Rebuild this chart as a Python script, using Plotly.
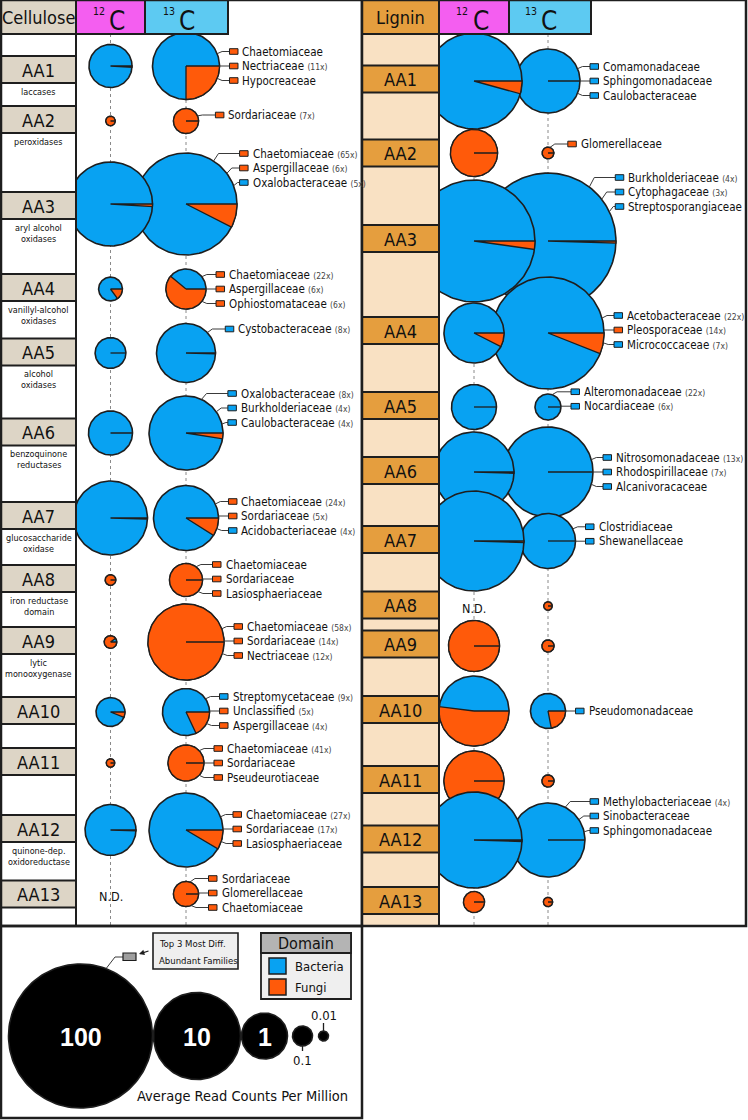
import numpy as np
import plotly.graph_objects as go

# ---------------- data ----------------
modules = ["AA1", "AA2", "AA3", "AA4", "AA5", "AA6", "AA7", "AA8", "AA9", "AA10", "AA11", "AA12", "AA13"]
cellulose_desc = [["laccases"], ["peroxidases"], ["aryl alcohol", "oxidases"], ["vanillyl-alcohol", "oxidases"],
                  ["alcohol", "oxidases"], ["benzoquinone", "reductases"], ["glucosaccharide", "oxidase"],
                  ["iron reductase", "domain"], ["lytic", "monooxygenase"], [], [], ["quinone-dep.", "oxidoreductase"], []]

# average read counts per million (None = not detected)
cell_12c_rpm = [0.77, 0.0076, 8.45, 0.14, 0.26, 0.84, 4.8, 0.0115, 0.018, 0.22, 0.0048, 1.32, None]
cell_13c_rpm = [3.25, 0.156, 18.3, 0.59, 2.07, 4.8, 2.9, 0.316, 5.4, 1.06, 0.41, 4.8, 0.156]
lig_12c_rpm = [14.4, 1.06, 41.0, 2.2, 0.91, 6.75, 16.9, None, 1.32, 3.85, 2.2, 14.4, 0.109]
lig_13c_rpm = [2.75, 0.0145, 72.0, 27.5, 0.17, 11.3, 1.66, 0.0048, 0.016, 0.38, 0.016, 4.8, 0.0069]

# share of reads assigned to fungi (%)
cell_12c_fungi = [1, 100, 1, 15, 0, 0.5, 0.5, 100, 90, 6, 100, 0.5, None]
cell_13c_fungi = [25, 100, 7.5, 61, 0.5, 2.5, 9, 100, 100, 18, 100, 8.5, 100]
lig_12c_fungi = [4.3, 100, 2.2, 7.5, 0, 0.5, 0.5, None, 100, 52, 100, 0.5, 100]
lig_13c_fungi = [0, 100, 0.5, 6, 0, 0, 0, 100, 100, 22, 100, 0, 100]

# top 3 most differentially abundant families (name, fold, domain)
cell_families = [
    [("Chaetomiaceae", "", "F"), ("Nectriaceae", "11x", "F"), ("Hypocreaceae", "", "F")],
    [("Sordariaceae", "7x", "F")],
    [("Chaetomiaceae", "65x", "F"), ("Aspergillaceae", "6x", "F"), ("Oxalobacteraceae", "5x", "B")],
    [("Chaetomiaceae", "22x", "F"), ("Aspergillaceae", "6x", "F"), ("Ophiostomataceae", "6x", "F")],
    [("Cystobacteraceae", "8x", "B")],
    [("Oxalobacteraceae", "8x", "B"), ("Burkholderiaceae", "4x", "B"), ("Caulobacteraceae", "4x", "B")],
    [("Chaetomiaceae", "24x", "F"), ("Sordariaceae", "5x", "F"), ("Acidobacteriaceae", "4x", "B")],
    [("Chaetomiaceae", "", "F"), ("Sordariaceae", "", "F"), ("Lasiosphaeriaceae", "", "F")],
    [("Chaetomiaceae", "58x", "F"), ("Sordariaceae", "14x", "F"), ("Nectriaceae", "12x", "F")],
    [("Streptomycetaceae", "9x", "B"), ("Unclassified", "5x", "F"), ("Aspergillaceae", "4x", "F")],
    [("Chaetomiaceae", "41x", "F"), ("Sordariaceae", "", "F"), ("Pseudeurotiaceae", "", "F")],
    [("Chaetomiaceae", "27x", "F"), ("Sordariaceae", "17x", "F"), ("Lasiosphaeriaceae", "", "F")],
    [("Sordariaceae", "", "F"), ("Glomerellaceae", "", "F"), ("Chaetomiaceae", "", "F")],
]
lig_families = [
    [("Comamonadaceae", "", "B"), ("Sphingomonadaceae", "", "B"), ("Caulobacteraceae", "", "B")],
    [("Glomerellaceae", "", "F")],
    [("Burkholderiaceae", "4x", "B"), ("Cytophagaceae", "3x", "B"), ("Streptosporangiaceae", "", "B")],
    [("Acetobacteraceae", "22x", "B"), ("Pleosporaceae", "14x", "F"), ("Micrococcaceae", "7x", "B")],
    [("Alteromonadaceae", "22x", "B"), ("Nocardiaceae", "6x", "B")],
    [("Nitrosomonadaceae", "13x", "B"), ("Rhodospirillaceae", "7x", "B"), ("Alcanivoracaceae", "", "B")],
    [("Clostridiaceae", "", "B"), ("Shewanellaceae", "", "B")],
    [], [],
    [("Pseudomonadaceae", "", "B")],
    [],
    [("Methylobacteriaceae", "4x", "B"), ("Sinobacteraceae", "", "B"), ("Sphingomonadaceae", "", "B")],
    [],
]

legend_rpm = [100, 10, 1, 0.1, 0.01]
legend_text = ["100", "10", "1", "0.1", "0.01"]
domains = ["Bacteria", "Fungi"]

# ---------------- layout / style ----------------
W, H = 748, 1120
FONT = "Liberation Sans Narrow, DejaVu Sans Condensed, Arial Narrow, Liberation Sans, sans-serif"
BOLD = "Liberation Sans, Arial, sans-serif"
BLUE = "#08A2F2"
ORANGE = "#FF5A0A"
DOMAIN_COLOR = {"B": BLUE, "F": ORANGE}
TAN = "#DDD5C6"
MAGENTA = "#F45EF0"
CYAN = "#5DCAF2"
LIG_HDR = "#E59E3E"
PEACH = "#F9E1C3"
LINE = "#1E1E1E"
INK = "#111111"

# size scale: log10(read counts per million) -> radius (px)
SIZE_LOG = [-3, -2, -1, 0, 1, 2]
SIZE_R = [2.5, 5, 10, 23, 43.5, 72]

PANELS = [
    dict(x0=1, lab_x1=76, x1=362, col12=110.5, col13=186, hdr="Cellulose", hdr_fill=TAN,
         box_fill=TAN, col_fill="white",
         rows=[66, 121, 204, 289, 353, 433, 518, 580, 642, 712, 763, 830, 894],
         box_y=[69.5, 119.5, 205.5, 287.5, 352, 432, 515.5, 578.5, 640.5, 710.5, 761.5, 828.5, 894],
         shift=[0, -6, -36, 0, -24, -25, -2, -1, -1, -1, 0, -1, -1],
         hdr12=(76, 145), hdr13=(145, 228),
         rpm12=cell_12c_rpm, rpm13=cell_13c_rpm, f12=cell_12c_fungi, f13=cell_13c_fungi,
         fams=cell_families, desc=cellulose_desc),
    dict(x0=362, lab_x1=439, x1=746, col12=474, col13=548, hdr="Lignin", hdr_fill=LIG_HDR,
         box_fill=LIG_HDR, col_fill=PEACH,
         rows=[81, 153, 241, 333, 407, 472, 541, 606, 646, 711, 781, 840, 902],
         box_y=[79, 153, 238.5, 330.5, 405.5, 470.5, 539.5, 605, 644, 709.5, 779.5, 839, 900.5],
         shift=[0, -9, -49, -3, -8, 0, -7, 0, 0, 0, 0, -24, 0],
         hdr12=(439, 509), hdr13=(509, 591),
         rpm12=lig_12c_rpm, rpm13=lig_13c_rpm, f12=lig_12c_fungi, f13=lig_13c_fungi,
         fams=lig_families, desc=[[] for _ in modules]),
]
HDR_H = 34
PANEL_BOTTOM = 926
SPACING = 14.5
GAP_CENTER, GAP_SINGLE, GAP_BLOCK = 10, 18, 6
LABEL_SIZE = 11.5
TEXT_OFF = 11

traces, shapes, annotations = [], [], []


def radius(v):
    return float(np.interp(np.log10(v), SIZE_LOG, SIZE_R))


def ann(x, y, text, size, color=INK, xanchor="center", yanchor="middle", family=FONT, align="center"):
    annotations.append(dict(x=x, y=y, xref="x", yref="y", text=text, showarrow=False,
                            xanchor=xanchor, yanchor=yanchor, align=align,
                            font=dict(family=family, size=size, color=color)))


def rect(x0, y0, x1, y1, fill, lw=2.0, color=LINE, layer="above"):
    shapes.append(dict(type="rect", xref="x", yref="y", x0=x0, y0=y0, x1=x1, y1=y1,
                       fillcolor=fill, line=dict(color=color, width=lw), layer=layer))


def line(x0, y0, x1, y1, color=LINE, width=1.0, dash="solid", layer="above"):
    shapes.append(dict(type="line", xref="x", yref="y", x0=x0, y0=y0, x1=x1, y1=y1,
                       line=dict(color=color, width=width, dash=dash), layer=layer))


def add_disc(cx, cy, r, fill):
    t = np.linspace(0, 2 * np.pi, 145)
    traces.append(go.Scatter(x=cx + r * np.cos(t), y=cy + r * np.sin(t), mode="lines", fill="toself",
                             fillcolor=fill, line=dict(color=LINE, width=1.6),
                             hoverinfo="skip", showlegend=False))


def add_pie(cx, cy, rpm, fungi):
    r = radius(rpm)
    add_disc(cx, cy, r, BLUE)
    f = fungi / 100.0
    if f > 0:
        n = max(3, int(np.ceil(f * 144)) + 1)
        tt = np.linspace(0, f * 2 * np.pi, n)
        xs = np.concatenate([[cx], cx + r * np.cos(tt), [cx]])
        ys = np.concatenate([[cy], cy + r * np.sin(tt), [cy]])
        traces.append(go.Scatter(x=xs, y=ys, mode="lines", fill="toself", fillcolor=ORANGE,
                                 line=dict(color=LINE, width=1.3), hoverinfo="skip", showlegend=False))
    else:
        traces.append(go.Scatter(x=[cx, cx + r], y=[cy, cy], mode="lines",
                                 line=dict(color=LINE, width=1.3), hoverinfo="skip", showlegend=False))
    return r


def add_labels(cx, cy, r, fams, shift):
    n = len(fams)
    ys = [cy + shift + (i - (n - 1) / 2) * SPACING for i in range(n)]
    starts = []
    centered = False
    for ly in ys:
        dy = ly - cy
        if abs(dy) < 3.5:
            starts.append((cx + r, ly))
            centered = True
        else:
            y0 = cy + float(np.clip(dy * 0.85, -0.95 * r, 0.95 * r))
            x0 = cx + np.sqrt(max(r * r - (y0 - cy) ** 2, 0))
            starts.append((x0, y0))
    gap = GAP_CENTER if centered else (GAP_SINGLE if n == 1 else GAP_BLOCK)
    rx = max(s[0] for s in starts) + gap
    for (x0, y0), ly, (name, fold, dom) in zip(starts, ys, fams):
        ex = min(x0 + 5, rx - 2) if abs(y0 - ly) > 0.5 else x0
        shapes.append(dict(type="path", xref="x", yref="y",
                           path=f"M{x0:.1f},{y0:.1f} L{ex:.1f},{ly:.1f} L{rx:.1f},{ly:.1f}",
                           line=dict(color="#3A3A3A", width=1), layer="above"))
        rect(rx, ly - 2.8, rx + 8.5, ly + 2.8, DOMAIN_COLOR[dom], lw=1)
        text = name
        if fold:
            text += f" <span style='font-size:8.5px;color:#444'>({fold})</span>"
        ann(rx + TEXT_OFF, ly, text, LABEL_SIZE, xanchor="left")


for P in PANELS:
    # dotted column guides
    for cx in (P["col12"], P["col13"]):
        line(cx, HDR_H, cx, PANEL_BOTTOM, color="#8A8A8A", width=1, dash="dot", layer="below")
    # pies
    for i, mod in enumerate(modules):
        cy = P["rows"][i]
        r13 = add_pie(P["col13"], cy, P["rpm13"][i], P["f13"][i])
        if P["rpm12"][i] is None:
            ann(P["col12"], cy + 2, "N.D.", 12.5)
        else:
            add_pie(P["col12"], cy, P["rpm12"][i], P["f12"][i])
        if P["fams"][i]:
            add_labels(P["col13"], cy, r13, P["fams"][i], P["shift"][i])
    # label column
    rect(P["x0"], HDR_H, P["lab_x1"], PANEL_BOTTOM, P["col_fill"], lw=2)
    xm = (P["x0"] + P["lab_x1"]) / 2
    for i, mod in enumerate(modules):
        by = P["box_y"][i]
        rect(P["x0"], by - 13.5, P["lab_x1"], by + 13.5, P["box_fill"], lw=2)
        ann(xm, by + 0.5, mod, 18)
        for k, txt in enumerate(P["desc"][i]):
            ann(xm, by + 13.5 + 8.5 + 11 * k, txt, 9)
    # headers
    rect(P["x0"], 0, P["lab_x1"], HDR_H, P["hdr_fill"], lw=2)
    ann(xm, HDR_H / 2 + 0.5, P["hdr"], 18)
    for (hx0, hx1), fill, iso, col, off in ((P["hdr12"], MAGENTA, "12", P["col12"], -4),
                                              (P["hdr13"], CYAN, "13", P["col13"], -9.5)):
        rect(hx0, 0, hx1, HDR_H, fill, lw=2)
        ann(col + off, 11, iso, 10.5, xanchor="right")
        ann(col + off + 0.5, 20.5, "C", 26, xanchor="left")
    # panel frame
    rect(P["x0"], 0, P["x1"], PANEL_BOTTOM, "rgba(0,0,0,0)", lw=2.5)

# ---------------- legend panel ----------------
rect(1, PANEL_BOTTOM, 362, 1118, "rgba(0,0,0,0)", lw=2.5)
LEG_Y = 1036
leg_r = [radius(v) for v in legend_rpm]
leg_gap = [1, 1, 5, 6]
leg_x = [80.5]
for k in range(1, len(leg_r)):
    leg_x.append(leg_x[-1] + leg_r[k - 1] + leg_r[k] + leg_gap[k - 1])
for k, (x, r, txt) in enumerate(zip(leg_x, leg_r, legend_text)):
    add_disc(x, LEG_Y, r, "black")
    if r > 20:
        ann(x, LEG_Y + 1, f"<b>{txt}</b>", 25, color="white", family=BOLD)
    elif k == 3:
        line(x, LEG_Y + r, x, LEG_Y + r + 5, width=1.3)
        ann(x, LEG_Y + r + 14, txt, 13)
    else:
        line(x, LEG_Y - r, x, LEG_Y - r - 8, width=1.3)
        ann(x, LEG_Y - r - 16, txt, 13)
ann(242, 1096, "Average Read Counts Per Million", 14.5)

# "top 3" call-out
big_x, big_r = leg_x[0], leg_r[0]
ang = np.arccos((106 - big_x) / big_r)
sx, sy = 106, LEG_Y - big_r * np.sin(ang)
shapes.append(dict(type="path", xref="x", yref="y", path=f"M{sx:.1f},{sy:.1f} L115,957 L123,957",
                   line=dict(color="#3A3A3A", width=1), layer="above"))
rect(123, 953, 136, 960.5, "#9E9E9E", lw=1.2)
rect(153, 933, 238, 969, "#EFEFEF", lw=1.6)
ann(157, 943.7, "Top 3 Most Diff.", 9.5, xanchor="left")
ann(157, 960, "Abundant Families", 9.5, xanchor="left")
annotations.append(dict(x=139, y=954, ax=150, ay=950.5, xref="x", yref="y", axref="x", ayref="y",
                        text="", showarrow=True, arrowhead=2, arrowsize=0.9, arrowwidth=1.2,
                        arrowcolor=LINE))

# domain legend
rect(261, 933, 351, 999, "#EFEFEF", lw=1.8)
rect(261, 933, 351, 953, "#B4B4B4", lw=1.8)
ann(306, 943.5, "Domain", 16)
for k, (dom, key) in enumerate(zip(domains, ["B", "F"])):
    y0 = 958 + 21 * k
    rect(269, y0, 286, y0 + 16, DOMAIN_COLOR[key], lw=1.5)
    ann(293, y0 + 8, dom, 13, xanchor="left")

fig = go.Figure(traces)
fig.update_layout(
    width=W, height=H, margin=dict(l=0, r=0, t=0, b=0, pad=0),
    paper_bgcolor="white", plot_bgcolor="white", showlegend=False, hovermode=False,
    xaxis=dict(range=[0, W], visible=False, fixedrange=True),
    yaxis=dict(range=[H, 0], visible=False, fixedrange=True),
    shapes=shapes, annotations=annotations,
)
fig.write_html("out.html", config={"displayModeBar": False},
               post_script="document.body.style.margin='0px';document.body.style.padding='0px';"
                           "document.body.style.overflow='hidden';")
